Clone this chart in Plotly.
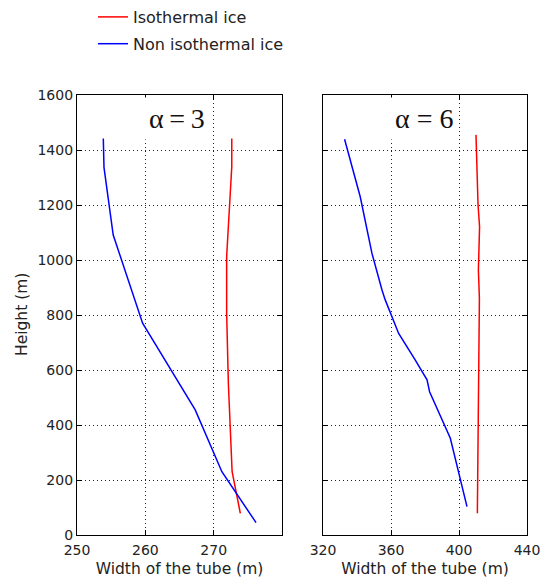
import plotly.graph_objects as go

# alpha = 3 panel
a3_iso_width = [273.9, 272.7, 272.15, 271.9, 271.9, 272.3, 272.65, 272.65]
a3_iso_height = [79, 230, 552, 806, 1012, 1170, 1339, 1442]
a3_non_width = [276.2, 271.2, 267.3, 259.6, 255.3, 253.95, 253.85]
a3_non_height = [45, 230, 455, 770, 1091, 1337, 1442]

# alpha = 6 panel
a6_iso_width = [410.8, 411.5, 412.0, 411.4, 412.1, 411.2, 410.5, 410.0]
a6_iso_height = [79, 500, 860, 964, 1121, 1200, 1350, 1455]
a6_non_width = [404.7, 394.9, 382.7, 381.2, 374.3, 364.5, 356.6, 354.7, 348.8, 341.9, 337.1, 332.7]
a6_non_height = [103, 352, 521, 564, 636, 733, 855, 891, 1024, 1230, 1339, 1439]

x1_ticks = [250, 260, 270, 280]
x1_labels = ["250", "260", "270", ""]
x2_ticks = [320, 360, 400, 440]
y_ticks = [0, 200, 400, 600, 800, 1000, 1200, 1400, 1600]

RED = "#ff0000"
BLUE = "#0000ff"
FONT = "DejaVu Sans"

fig = go.Figure()
fig.add_trace(go.Scatter(x=a3_iso_width, y=a3_iso_height, mode="lines", name="Isothermal ice",
                         line=dict(color=RED, width=1.5), xaxis="x", yaxis="y",
                         legendgroup="a", showlegend=True))
fig.add_trace(go.Scatter(x=a3_non_width, y=a3_non_height, mode="lines", name="Non isothermal ice",
                         line=dict(color=BLUE, width=1.5), xaxis="x", yaxis="y",
                         legendgroup="b", showlegend=True))
fig.add_trace(go.Scatter(x=a6_iso_width, y=a6_iso_height, mode="lines", name="Isothermal ice",
                         line=dict(color=RED, width=1.5), xaxis="x2", yaxis="y2",
                         legendgroup="a", showlegend=False))
fig.add_trace(go.Scatter(x=a6_non_width, y=a6_non_height, mode="lines", name="Non isothermal ice",
                         line=dict(color=BLUE, width=1.5), xaxis="x2", yaxis="y2",
                         legendgroup="b", showlegend=False))

axis_common = dict(
    showline=True, linecolor="black", linewidth=1.2, mirror="ticks",
    ticks="inside", ticklen=5, tickcolor="black",
    showgrid=True, gridcolor="#222", griddash="1px,3px", gridwidth=1,
    zeroline=False, tickfont=dict(family=FONT, size=14, color="#222"),
)

fig.update_layout(
    width=547, height=578,
    margin=dict(l=77, r=20, t=95, b=43, autoexpand=False),
    plot_bgcolor="white", paper_bgcolor="white",
    font=dict(family=FONT, size=14, color="#222"),
    xaxis=dict(domain=[0, 205 / 450], range=[250, 280], tickvals=x1_ticks, ticktext=x1_labels,
               ticklabelstandoff=2,
               title=dict(text="Width of the tube (m)", font=dict(family=FONT, size=15.5)),
               anchor="y", **axis_common),
    yaxis=dict(domain=[0, 1], range=[0, 1600], tickvals=y_ticks,
               anchor="x", **axis_common),
    xaxis2=dict(domain=[246 / 450, 1], range=[320, 440], tickvals=x2_ticks,
                ticklabelstandoff=2,
                title=dict(text="Width of the tube (m)", font=dict(family=FONT, size=15.5)),
                anchor="y2", **axis_common),
    yaxis2=dict(domain=[0, 1], range=[0, 1600], tickvals=y_ticks, showticklabels=False,
                anchor="x2", **axis_common),
    legend=dict(xref="container", yref="container", x=93 / 547, y=1 - 0 / 578,
                xanchor="left", yanchor="top",
                font=dict(family=FONT, size=16, color="#222"), bgcolor="rgba(0,0,0,0)",
                traceorder="grouped", tracegroupgap=3),
    annotations=[
        dict(text="Height (m)", xref="paper", yref="paper", x=(22 - 77) / 450, y=0.5,
             xanchor="center", yanchor="middle", showarrow=False, textangle=-90,
             font=dict(family=FONT, size=15.5, color="#222")),
        dict(text="α\u2009=\u20093", xref="x domain", yref="y domain", x=0.486, y=0.9466,
             xanchor="center", yanchor="middle", showarrow=False,
             font=dict(family="Liberation Serif", size=28, color="#111"),
             bgcolor="white", borderpad=5),
        dict(text="α = 6", xref="x2 domain", yref="y2 domain", x=0.493, y=0.9466,
             xanchor="center", yanchor="middle", showarrow=False,
             font=dict(family="Liberation Serif", size=28, color="#111"),
             bgcolor="white", borderpad=5),
    ],
)

fig.write_html("out.html", config={"displayModeBar": False},
               post_script="document.body.style.margin='0px';document.body.style.overflow='hidden';")
